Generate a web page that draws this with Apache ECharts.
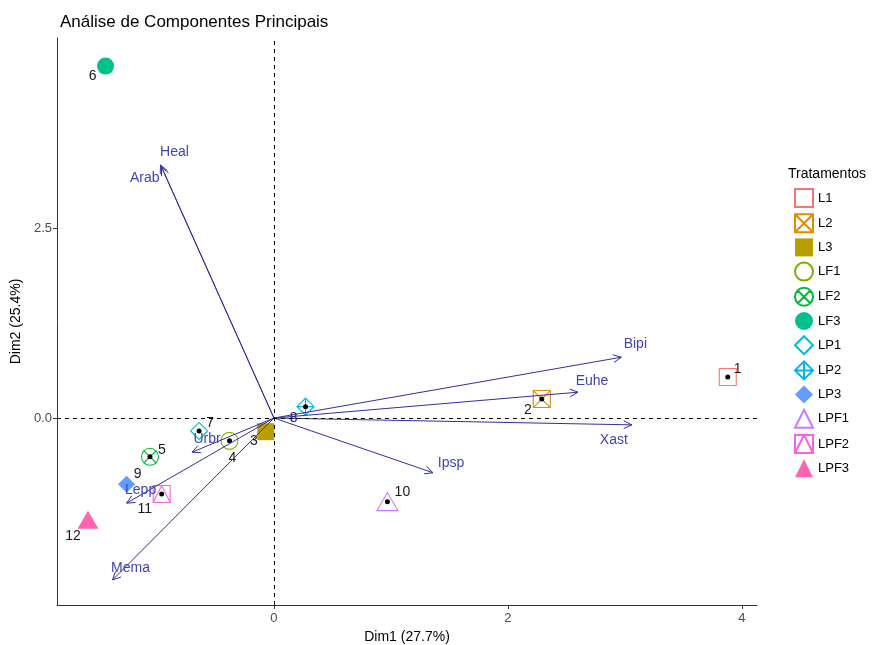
<!DOCTYPE html>
<html>
<head>
<meta charset="utf-8">
<title>Análise de Componentes Principais</title>
<script src="https://cdn.jsdelivr.net/npm/echarts@6/dist/echarts.min.js"></script>
<style>
  html, body { margin: 0; padding: 0; background: #fff; }
  #chart { width: 879px; height: 645px; }
</style>
</head>
<body>
<div id="chart"></div>
<script>
// observations (one per treatment)
const treatments = ["L1", "L2", "L3", "LF1", "LF2", "LF3", "LP1", "LP2", "LP3", "LPF1", "LPF2", "LPF3"];
const obsIds = [1, 2, 3, 4, 5, 6, 7, 8, 9, 10, 11, 12];
const obsDim1 = [3.88, 2.29, -0.07, -0.38, -1.06, -1.44, -0.64, 0.27, -1.26, 0.97, -0.96, -1.59];
const obsDim2 = [0.54, 0.25, -0.18, -0.30, -0.51, 4.63, -0.17, 0.15, -0.87, -1.10, -1.00, -1.34];

// variable loadings (arrows)
const varNames = ["Heal", "Arab", "Bipi", "Euhe", "Xast", "Ipsp", "Urbr", "Lepp", "Mema"];
const varDim1 = [-0.97, -0.96, 2.97, 2.60, 3.06, 1.36, -0.70, -1.26, -1.38];
const varDim2 = [3.33, 3.30, 0.80, 0.34, -0.09, -0.72, -0.45, -1.12, -2.13];

// tick labels
const xTicks = [0, 2, 4];
const yTicks = [0, 2.5];

// styling
const colors = ["#F8766D", "#DE8C00", "#B79F00", "#7CAE00", "#00BA38", "#00C08B",
                "#00BFC4", "#00B4F0", "#619CFF", "#C77CFF", "#F564E3", "#FF64B0"];
const shapes = [
  { symbol: "rect", filled: false },
  { symbol: "path://M0,0L10,0L10,10L0,10Z M0,0L10,10 M10,0L0,10", filled: false },
  { symbol: "rect", filled: true },
  { symbol: "circle", filled: false },
  { symbol: "path://M0,5A5,5,0,1,1,10,5A5,5,0,1,1,0,5Z M1.2,1.2L8.8,8.8 M8.8,1.2L1.2,8.8", filled: false },
  { symbol: "circle", filled: true },
  { symbol: "diamond", filled: false },
  { symbol: "path://M5,0L10,5L5,10L0,5Z M5,0L5,10 M0,5L10,5", filled: false },
  { symbol: "diamond", filled: true },
  { symbol: "triangle", filled: false },
  { symbol: "path://M0,0L10,0L10,10L0,10Z M0,10L5,0L10,10", filled: false },
  { symbol: "triangle", filled: true }
];
const obsLabelOffsets = [[10, -8], [-14, 11], [-12, 9], [3, 17], [12, -7], [-13, 10],
                         [11, -8], [-12, 12], [11, -10], [15, -9], [-17, 15], [-15, 16]];
const varLabelOffsets = [[14, -13], [-17, 11], [14, -13], [14, -11], [-18, 15],
                         [18, -10], [15, -13], [14, -13], [18, -12]];
const arrowColor = "#30309A";
const varTextColor = "#4343B3";
const font = "Liberation Sans, Arial, sans-serif";

const chart = echarts.init(document.getElementById("chart"));

const series = [];

// black centre dots (drawn below the filled markers)
series.push({
  type: "scatter",
  name: "dots",
  silent: true,
  symbol: "circle",
  symbolSize: 5,
  itemStyle: { color: "#000", opacity: 1 },
  data: obsDim1.map((x, i) => [x, obsDim2[i]]),
  z: 2,
  markLine: {
    silent: true,
    symbol: "none",
    label: { show: false },
    lineStyle: { type: [4, 4], color: "#000", width: 1 },
    data: [{ xAxis: 0 }, { yAxis: 0 }]
  }
});

treatments.forEach((t, i) => {
  const s = shapes[i];
  const isTri = s.symbol === "triangle";
  series.push({
    type: "scatter",
    name: t,
    symbol: s.symbol,
    symbolSize: isTri ? [21, 18] : 17,
    itemStyle: s.filled
      ? { color: colors[i], opacity: 1 }
      : { color: "rgba(0,0,0,0)", borderColor: colors[i], borderWidth: 1.1, opacity: 1 },
    label: {
      show: true,
      position: "inside",
      offset: obsLabelOffsets[i],
      formatter: String(obsIds[i]),
      color: "#1a1a1a",
      fontSize: 14,
      fontFamily: font
    },
    data: [[obsDim1[i], obsDim2[i]]],
    z: s.filled ? 3 : 1
  });
});

function renderArrow(params, api) {
  const i = params.dataIndex;
  const o = api.coord([0, 0]);
  const t = api.coord([api.value(0), api.value(1)]);
  const a = Math.atan2(t[1] - o[1], t[0] - o[0]);
  const h = 9, w = 0.45;
  const p1 = [t[0] - h * Math.cos(a - w), t[1] - h * Math.sin(a - w)];
  const p2 = [t[0] - h * Math.cos(a + w), t[1] - h * Math.sin(a + w)];
  const off = varLabelOffsets[i];
  return {
    type: "group",
    children: [
      { type: "line", shape: { x1: o[0], y1: o[1], x2: t[0], y2: t[1] },
        style: { stroke: arrowColor, lineWidth: 1 } },
      { type: "polyline", shape: { points: [p1, t, p2] },
        style: { stroke: arrowColor, fill: null, lineWidth: 1 } },
      { type: "text", x: t[0] + off[0], y: t[1] + off[1],
        style: { text: varNames[i], fill: varTextColor, fontSize: 14, fontFamily: font,
                 align: "center", verticalAlign: "middle" } }
    ]
  };
}

series.push({
  type: "custom",
  name: "variables",
  silent: true,
  renderItem: renderArrow,
  encode: { x: 0, y: 1 },
  data: varDim1.map((x, i) => [x, varDim2[i]]),
  clip: false,
  z: 4
});

chart.setOption({
  animation: false,
  textStyle: { fontFamily: font },
  title: [
    { text: "Análise de Componentes Principais", left: 55, top: 9,
      textStyle: { fontSize: 17, fontWeight: "normal", color: "#000", fontFamily: font } },
    { text: "Tratamentos", left: 783, top: 162,
      textStyle: { fontSize: 14, fontWeight: "normal", color: "#000", fontFamily: font } }
  ],
  legend: {
    data: treatments,
    orient: "vertical",
    left: 789,
    top: 183,
    itemWidth: 18,
    itemHeight: 18,
    itemGap: 5.2,
    textStyle: { fontSize: 13, color: "#000", fontFamily: font },
    selectedMode: false
  },
  grid: { left: 57, right: 122, top: 38, bottom: 40, containLabel: false, outerBoundsMode: "none" },
  xAxis: {
    type: "value",
    min: -1.855,
    max: 4.13,
    name: "Dim1 (27.7%)",
    nameLocation: "middle",
    nameGap: 24,
    nameTextStyle: { fontSize: 14, color: "#000" },
    splitLine: { show: false },
    axisLine: { onZero: false, lineStyle: { color: "#333", width: 1 } },
    axisTick: { show: true, length: 4, customValues: xTicks, lineStyle: { color: "#333" } },
    axisLabel: { customValues: xTicks, color: "#4d4d4d", fontSize: 13, margin: 7 }
  },
  yAxis: {
    type: "value",
    min: -2.46,
    max: 5.0,
    name: "Dim2 (25.4%)",
    nameLocation: "middle",
    nameGap: 32,
    nameTextStyle: { fontSize: 14, color: "#000" },
    splitLine: { show: false },
    axisLine: { show: true, onZero: false, lineStyle: { color: "#333", width: 1 } },
    axisTick: { show: true, length: 4, customValues: yTicks, lineStyle: { color: "#333" } },
    axisLabel: { customValues: yTicks, color: "#4d4d4d", fontSize: 13, margin: 5,
                 formatter: v => v.toFixed(1) }
  },
  series: series
});
</script>
</body>
</html>
